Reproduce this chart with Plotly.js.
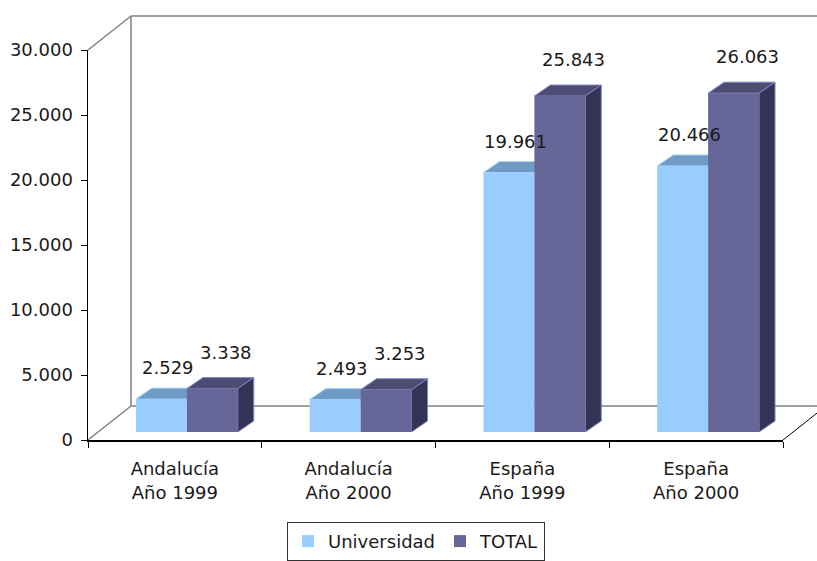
<!DOCTYPE html>
<html>
<head>
<meta charset="utf-8">
<script src="https://cdn.plot.ly/plotly-3.0.1.min.js"></script>
<style>html,body{margin:0;padding:0;background:#fff;}#chart{width:817px;height:561px;}</style>
</head>
<body>
<div id="chart"></div>
<script>
// ---- data ----
const categories = ['Andalucía<br>Año 1999', 'Andalucía<br>Año 2000', 'España<br>Año 1999', 'España<br>Año 2000'];
const universidad = [2529, 2493, 19961, 20466];
const total = [3338, 3253, 25843, 26063];
const seriesNames = ['Universidad', 'TOTAL'];
const yTickVals = [0, 5000, 10000, 15000, 20000, 25000, 30000];

// ---- geometry / style ----
const W = 817, H = 561;
const M = {l: 88, r: 34, t: 50, b: 121, autoexpand: false};
const plotW = W - M.l - M.r, plotH = H - M.t - M.b;
const yMax = 30000;
const nCat = categories.length;
const pxPerUnit = plotH / yMax;
const pxPerCat = plotW / nCat;
const barPlane = {dx: 12, dy: 8};      // bars sit a little into the depth
const depth = {dx: 16, dy: 11};        // bar depth (3D faces)
const wall = {dx: 43, dy: 34};         // back wall offset
const bargap = 0.414;
const bw = (1 - bargap) / 2;           // bar width in category units
const bwPx = bw * pxPerCat;

const colU = {front: '#99ccff', top: '#6f9bc4', edge: '#a9d5ff'};
const colT = {front: '#666699', top: '#4d4d73', side: '#333355', edge: '#8383c4'};
const FONT = 'DejaVu Sans, Verdana, sans-serif';

const fmt = v => String(v).replace(/\B(?=(\d{3})+(?!\d))/g, '.');
const idx = categories.map((_, i) => i);

const traces = [
  {type: 'scatter', x: categories, y: categories.map(() => 0), mode: 'markers',
   marker: {opacity: 0}, showlegend: false, hoverinfo: 'skip', xaxis: 'x', yaxis: 'y'},
  {type: 'bar', name: seriesNames[0], x: idx, y: universidad, xaxis: 'x2', yaxis: 'y2',
   marker: {color: colU.front, line: {width: 0}}},
  {type: 'bar', name: seriesNames[1], x: idx, y: total, xaxis: 'x2', yaxis: 'y2',
   marker: {color: colT.front, line: {width: 0}}}
];

const shapes = [];
// walls (decoration, relative to the plot area corners)
const gray = {color: '#808080', width: 1.5};
function wallPath(path, line) {
  shapes.push({type: 'path', xref: 'paper', yref: 'paper', xsizemode: 'pixel', ysizemode: 'pixel',
    xanchor: 0, yanchor: 0, path: path, line: line, layer: 'below'});
}
wallPath(`M0,0 L${wall.dx},${wall.dy}`, gray);
wallPath(`M${wall.dx},${wall.dy} L${wall.dx},${wall.dy + plotH}`, gray);
wallPath(`M0,${plotH} L${wall.dx},${wall.dy + plotH}`, gray);
wallPath(`M${wall.dx},${wall.dy + plotH} L${plotW + wall.dx},${wall.dy + plotH}`, gray);
wallPath(`M${wall.dx},${wall.dy} L${plotW + wall.dx},${wall.dy}`, gray);
wallPath(`M${plotW},0 L${plotW + wall.dx},${wall.dy}`, {color: '#000', width: 1});

// 3D faces computed from the data
function face(xa, ya, path, fill, edge) {
  shapes.push({type: 'path', xref: 'x2', yref: 'y2', xsizemode: 'pixel', ysizemode: 'pixel',
    xanchor: xa, yanchor: ya, path: path, fillcolor: fill, line: {color: edge, width: 1}, layer: 'below'});
}
const topPath = `M0,0 L${depth.dx},${depth.dy} L${bwPx + depth.dx},${depth.dy} L${bwPx},0 Z`;
idx.forEach(i => {
  face(i - bw, universidad[i], topPath, colU.top, colU.edge);
  face(i, total[i], topPath, colT.top, colT.edge);
  const hPx = total[i] * pxPerUnit;
  face(i + bw, total[i], `M0,0 L${depth.dx},${depth.dy} L${depth.dx},${depth.dy - hPx} L0,${-hPx} Z`, colT.side, colT.edge);
});

// value labels
const annotations = [];
idx.forEach(i => {
  annotations.push({xref: 'x2', yref: 'y2', x: i - bw / 2, y: universidad[i], text: fmt(universidad[i]),
    showarrow: false, xanchor: 'center', yanchor: 'bottom', xshift: 7, yshift: 19,
    font: {family: FONT, size: 18, color: '#1a1a1a'}});
  annotations.push({xref: 'x2', yref: 'y2', x: i + bw / 2, y: total[i], text: fmt(total[i]),
    showarrow: false, xanchor: 'center', yanchor: 'bottom', xshift: 14, yshift: 24,
    font: {family: FONT, size: 18, color: '#1a1a1a'}});
});

const layout = {
  width: W, height: H,
  margin: M,
  paper_bgcolor: '#fff', plot_bgcolor: 'rgba(0,0,0,0)',
  font: {family: FONT, size: 18, color: '#1a1a1a'},
  separators: ',.',
  showlegend: true,
  barmode: 'group', bargap: bargap, bargroupgap: 0,
  xaxis: {type: 'category', range: [-0.5, nCat - 0.5], fixedrange: true, automargin: false,
    showline: true, linecolor: '#000', linewidth: 1.5, showgrid: false, zeroline: false,
    ticks: 'outside', tickson: 'boundaries', ticklen: 6, tickcolor: '#000', tickwidth: 1,
    ticklabelstandoff: 12, tickfont: {size: 18, color: '#1a1a1a'}},
  yaxis: {range: [0, yMax], fixedrange: true, tickvals: yTickVals, tickformat: ',d', automargin: false,
    showline: true, linecolor: '#000', linewidth: 1.5, showgrid: false, zeroline: false,
    ticks: 'outside', ticklen: 6, tickcolor: '#000', tickwidth: 1, ticklabelstandoff: 4,
    tickfont: {size: 18, color: '#1a1a1a'}},
  xaxis2: {overlaying: 'x', anchor: 'y2', visible: false, type: 'linear',
    range: [-0.5 - barPlane.dx / pxPerCat, nCat - 0.5 - barPlane.dx / pxPerCat]},
  yaxis2: {overlaying: 'y', anchor: 'x2', visible: false,
    range: [-barPlane.dy / pxPerUnit, yMax - barPlane.dy / pxPerUnit]},
  legend: {orientation: 'h', x: 0.472, xanchor: 'center', y: -0.21, yanchor: 'top',
    bordercolor: '#333', borderwidth: 1, font: {size: 18, color: '#1a1a1a'}, bgcolor: '#fff',
    itemwidth: 30, tracegroupgap: 0},
  shapes: shapes,
  annotations: annotations
};

Plotly.newPlot('chart', traces, layout, {displayModeBar: false, staticPlot: true});
</script>
</body>
</html>
